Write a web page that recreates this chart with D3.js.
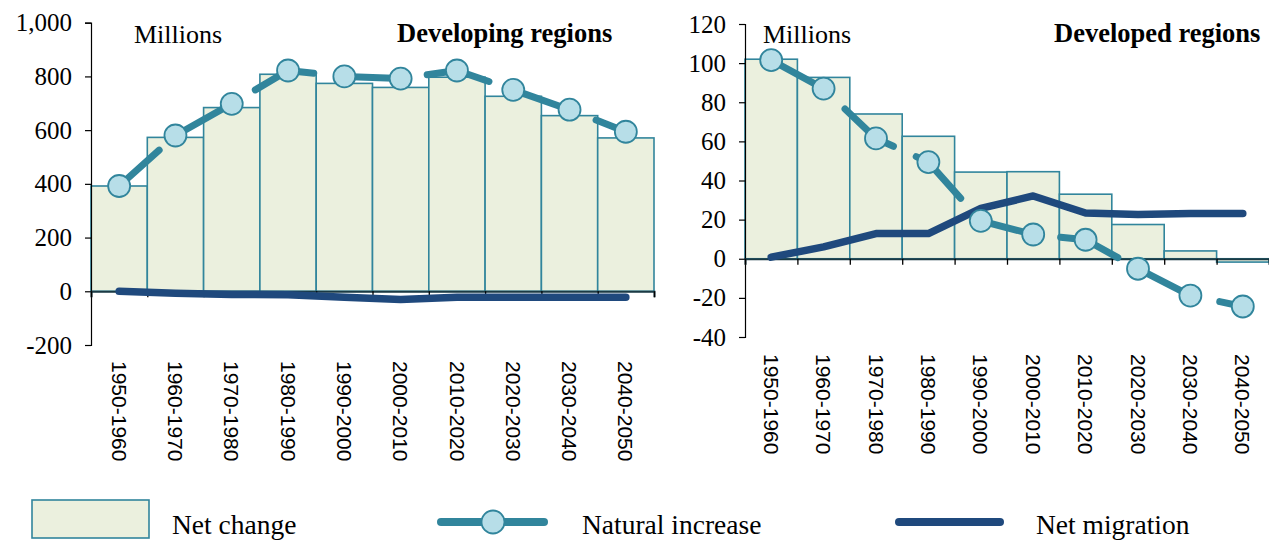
<!DOCTYPE html>
<html>
<head>
<meta charset="utf-8">
<script src="https://cdn.jsdelivr.net/npm/d3@7"></script>
<style>
  html, body { margin: 0; padding: 0; background: #ffffff; }
  svg { display: block; }
</style>
</head>
<body>
<svg id="chart" width="1269" height="540"></svg>
<script>
// ---- Data (millions) ----
const categories = ["1950-1960","1960-1970","1970-1980","1980-1990","1990-2000",
                    "2000-2010","2010-2020","2020-2030","2030-2040","2040-2050"];

const developingNetChange  = [392, 573, 684, 808, 774, 759, 797, 726, 654, 571];
const developingNatural    = [392, 580, 698, 822, 800, 792, 822, 750, 676, 594];
const developingMigration  = [0, -7, -12, -13, -22, -31, -22, -22, -22, -22];

const developedNetChange   = [102, 92.7, 74, 62.6, 44.3, 44.5, 33, 17.5, 4, -1.7];
const developedNatural     = [101.5, 87, 61.5, 49.4, 19.4, 12.4, 9.7, -5.1, -18.8, -24.4];
const developedMigration   = [0.8, 6.1, 12.9, 12.9, 25.8, 32.1, 23.4, 22.6, 23.1, 23.1];

const developingTicks = [-200, 0, 200, 400, 600, 800, 1000];
const developedTicks  = [-40, -20, 0, 20, 40, 60, 80, 100, 120];

const legendLabels = ["Net change", "Natural increase", "Net migration"];

// ---- Styles ----
const SERIF = "'Liberation Serif', 'Times New Roman', serif";
const SANS = "'Liberation Sans', Arial, sans-serif";
const COL_BAR_FILL = "#ebf0de";
const COL_TEAL = "#31859c";
const COL_MARKER = "#b7dee8";
const COL_NAVY = "#1f497d";

const svg = d3.select("#chart");
const fmt = d => d3.format(",")(d).replace("\u2212", "-");

function panel(opts) {
  const { netChange, natural, migration, ticks, domain, xRange, yRange,
          title, titleX, millionsX, labelY, dash, dashOffset } = opts;
  const g = svg.append("g");
  const x = d3.scaleBand().domain(categories).range(xRange).padding(0);
  const y = d3.scaleLinear().domain(domain).range(yRange);
  const cx = d => x(d) + x.bandwidth() / 2;

  // bars
  g.append("g").selectAll("rect").data(categories).join("rect")
    .attr("x", d => x(d))
    .attr("width", x.bandwidth())
    .attr("y", (d, i) => Math.min(y(netChange[i]), y(0)))
    .attr("height", (d, i) => Math.abs(y(netChange[i]) - y(0)))
    .attr("fill", COL_BAR_FILL)
    .attr("stroke", COL_TEAL)
    .attr("stroke-width", 1.6);

  // y axis
  const ya = g.append("g")
    .attr("transform", `translate(${xRange[0]},0)`)
    .call(d3.axisLeft(y).tickValues(ticks).tickSize(6).tickPadding(13).tickFormat(fmt));
  ya.attr("font-family", SERIF).attr("font-size", 25);
  ya.select(".domain").attr("stroke", "#000").attr("stroke-width", 1.2);
  ya.selectAll(".tick line").attr("stroke", "#000").attr("stroke-width", 1.2);
  ya.selectAll(".tick text")
    .style("font-family", SERIF)
    .style("font-size", "25px")
    .attr("fill", "#000");

  // x axis at zero with ticks at band edges
  const xi = d3.scaleLinear().domain([0, categories.length]).range(xRange);
  const xa = g.append("g")
    .attr("transform", `translate(0,${y(0)})`)
    .call(d3.axisBottom(xi).tickValues(d3.range(categories.length + 1)).tickSize(6).tickFormat(""));
  xa.select(".domain").attr("stroke", "#1b3a44").attr("stroke-width", 2);
  xa.selectAll(".tick line").attr("stroke", "#000").attr("stroke-width", 1.3);

  // category labels (rotated)
  const la = g.append("g")
    .attr("transform", `translate(0,${labelY})`)
    .call(d3.axisBottom(x).tickSize(0).tickPadding(0));
  la.select(".domain").remove();
  la.selectAll(".tick text")
    .attr("transform", "rotate(90)")
    .attr("x", 0).attr("y", 0).attr("dy", "0.35em")
    .attr("text-anchor", "start")
    .style("font-family", SANS)
    .style("font-size", "21px")
    .attr("fill", "#000");

  // net migration
  const lineMig = d3.line().x((d, i) => cx(categories[i])).y(d => y(d));
  g.append("path").datum(migration)
    .attr("d", lineMig)
    .attr("fill", "none")
    .attr("stroke", COL_NAVY)
    .attr("stroke-width", 7.5)
    .attr("stroke-linecap", "round")
    .attr("stroke-linejoin", "round");

  // natural increase
  const lineNat = d3.line().x((d, i) => cx(categories[i])).y(d => y(d));
  g.append("path").datum(natural)
    .attr("d", lineNat)
    .attr("fill", "none")
    .attr("stroke", COL_TEAL)
    .attr("stroke-width", 7)
    .attr("stroke-linecap", "round")
    .attr("stroke-linejoin", "round")
    .attr("stroke-dasharray", dash)
    .attr("stroke-dashoffset", dashOffset);

  g.append("g").selectAll("circle").data(natural).join("circle")
    .attr("cx", (d, i) => cx(categories[i]))
    .attr("cy", d => y(d))
    .attr("r", 11)
    .attr("fill", COL_MARKER)
    .attr("stroke", COL_TEAL)
    .attr("stroke-width", 1.8);

  // titles
  g.append("text")
    .attr("x", millionsX).attr("y", 43)
    .style("font-family", SERIF).style("font-size", "26px").attr("fill", "#000")
    .text("Millions");
  g.append("text")
    .attr("x", titleX).attr("y", 42)
    .style("font-family", SERIF).style("font-size", "26.5px").style("font-weight", "bold").attr("fill", "#000")
    .text(title);
}

panel({
  netChange: developingNetChange, natural: developingNatural, migration: developingMigration,
  ticks: developingTicks, domain: [-200, 1000], xRange: [91, 654], yRange: [345, 22.7],
  title: "Developing regions", titleX: 397, millionsX: 134, labelY: 361,
  dash: "63.9 25", dashOffset: 10.2
});

panel({
  netChange: developedNetChange, natural: developedNatural, migration: developedMigration,
  ticks: developedTicks, domain: [-40, 120], xRange: [745, 1269], yRange: [337, 24],
  title: "Developed regions", titleX: 1054, millionsX: 763, labelY: 354,
  dash: "61.9 25", dashOffset: 84.65
});

// ---- Legend ----
const lg = svg.append("g");
lg.append("rect")
  .attr("x", 32).attr("y", 500).attr("width", 117).attr("height", 38)
  .attr("fill", COL_BAR_FILL).attr("stroke", COL_TEAL).attr("stroke-width", 1.6);
lg.append("line")
  .attr("x1", 441).attr("x2", 544).attr("y1", 522).attr("y2", 522)
  .attr("stroke", COL_TEAL).attr("stroke-width", 8).attr("stroke-linecap", "round");
lg.append("circle")
  .attr("cx", 493).attr("cy", 522).attr("r", 11.5)
  .attr("fill", COL_MARKER).attr("stroke", COL_TEAL).attr("stroke-width", 1.8);
lg.append("line")
  .attr("x1", 899).attr("x2", 1000).attr("y1", 522).attr("y2", 522)
  .attr("stroke", COL_NAVY).attr("stroke-width", 8).attr("stroke-linecap", "round");

const legendX = [172, 582, 1036];
lg.selectAll("text.leg").data(legendLabels).join("text")
  .attr("class", "leg")
  .attr("x", (d, i) => legendX[i]).attr("y", 534)
  .style("font-family", SERIF).style("font-size", "27.5px")
  .attr("fill", "#000")
  .text(d => d);
</script>
</body>
</html>
